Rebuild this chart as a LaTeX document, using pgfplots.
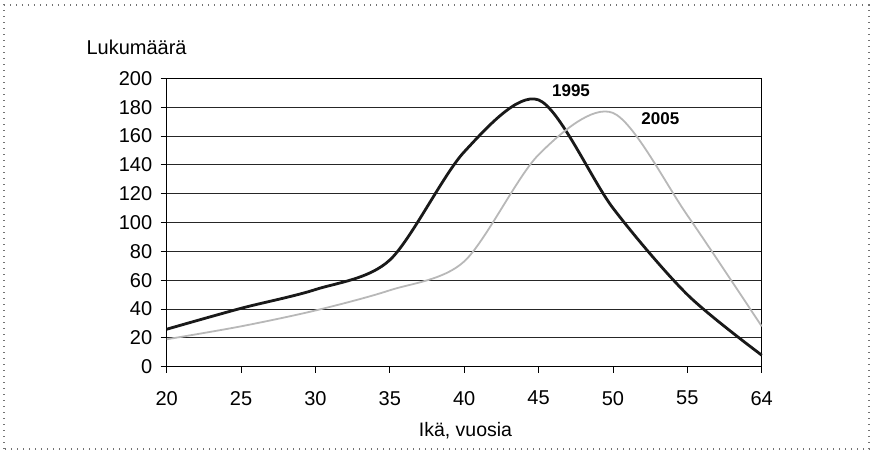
\documentclass[border=0pt]{standalone}
\usepackage{fontspec}
\setmainfont{Liberation Sans}
\usepackage{pgfplots}
\pgfplotsset{compat=1.18}
\begin{document}
\begin{tikzpicture}[x=1pt,y=1pt]
\useasboundingbox (0,0) rectangle (872,452);
\draw[black!55, line width=1.3pt, dash pattern=on 1.3pt off 4.7pt] (4,3) rectangle (869,447);
\begin{axis}[
  at={(166.7pt,85.3pt)}, anchor=south west,
  scale only axis, width=595pt, height=288.4pt,
  xmin=0, xmax=8, ymin=0, ymax=200,
  xtick={0,...,8}, xticklabels={20,25,30,35,40,45,50,55,64},
  ytick={0,20,...,200},
  tick pos=left, tick align=outside, major tick length=6pt,
  tick style={black, line width=0.8pt},
  axis line style={black, line width=0.8pt},
  ymajorgrids, grid style={black!85, line width=0.9pt},
  /pgf/number format/assume math mode=true,
  tick label style={font=\fontsize{20}{22}\selectfont},
  xticklabel style={yshift=-15pt},
  yticklabel style={xshift=-5pt},
  clip=false,
]
\addplot[smooth, black!90, line width=2.8pt] coordinates {
(0,26) (1,40.5) (2,53.5) (3,74) (4,149) (5,185) (6,110) (7,50) (8,8)};
\addplot[smooth, black!28, line width=1.8pt] coordinates {
(0,19) (1,28) (2,39) (3,53) (4,73) (5,147) (6,176) (7,105) (8,28)};
\node[font=\fontsize{17}{19}\selectfont\bfseries] at (axis cs:5.436,191.5) {1995};
\node[font=\fontsize{17}{19}\selectfont\bfseries] at (axis cs:6.637,172) {2005};
\end{axis}
\node[anchor=base west, font=\fontsize{20}{22}\selectfont] at (83,397) {Lukumäärä};
\node[anchor=base, font=\fontsize{19.5}{22}\selectfont] at (465.5,15.3) {Ikä, vuosia};
\end{tikzpicture}
\end{document}
